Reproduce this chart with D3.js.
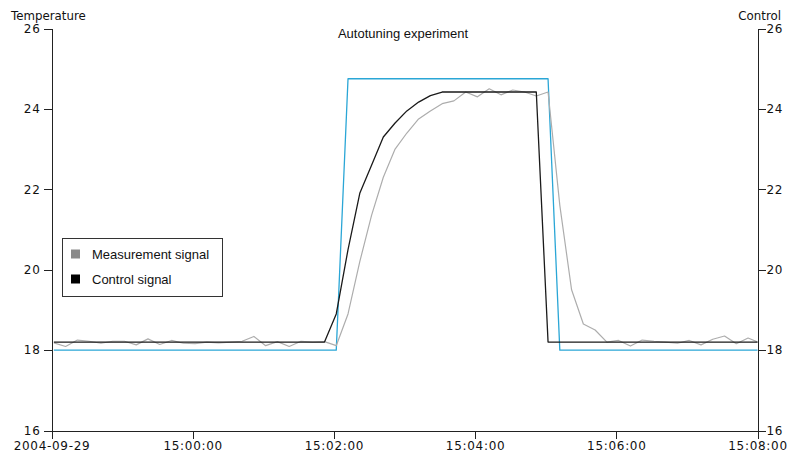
<!DOCTYPE html>
<html>
<head>
<meta charset="utf-8">
<script src="https://cdn.jsdelivr.net/npm/d3@7/dist/d3.min.js"></script>
<style>
  html, body { margin: 0; padding: 0; background: #fff; }
  svg { display: block; }
  .tick text { font-family: "DejaVu Sans", Verdana, sans-serif; font-size: 12px; letter-spacing: 0.7px; fill: #111; }
  .axis path, .axis line { stroke: #222; shape-rendering: crispEdges; }
</style>
</head>
<body>
<svg id="chart" width="792" height="458"></svg>
<script>
// Autotuning experiment: temperature response to a control step
const title = "Autotuning experiment";
const leftAxisTitle = "Temperature";
const rightAxisTitle = "Control";

// Samples are taken every 10 s starting at 14:58:02
const sampleStart = "2004-09-29T14:58:02";
const sampleStepSeconds = 10;

// Measured temperature
const measurement = [
  18.18, 18.09, 18.25, 18.22, 18.17, 18.22, 18.22, 18.13, 18.28, 18.14,
  18.24, 18.17, 18.16, 18.20, 18.18, 18.20, 18.22, 18.34, 18.11, 18.21,
  18.09, 18.22, 18.20, 18.21, 18.11, 18.90, 20.20, 21.35, 22.30, 23.00,
  23.40, 23.75, 23.95, 24.13, 24.20, 24.42, 24.30, 24.50, 24.35, 24.47,
  24.42, 24.32, 24.42, 21.60, 19.50, 18.65, 18.50, 18.20, 18.24, 18.10,
  18.25, 18.22, 18.20, 18.17, 18.24, 18.13, 18.27, 18.35, 18.16, 18.30,
  18.18
];

// Control signal
const control = [
  18.20, 18.20, 18.20, 18.20, 18.20, 18.20, 18.20, 18.20, 18.20, 18.20,
  18.20, 18.20, 18.20, 18.20, 18.20, 18.20, 18.20, 18.20, 18.20, 18.20,
  18.20, 18.20, 18.20, 18.20, 18.90, 20.50, 21.90, 22.60, 23.30, 23.65,
  23.95, 24.17, 24.33, 24.42, 24.42, 24.42, 24.42, 24.42, 24.42, 24.42,
  24.42, 24.42, 18.20, 18.20, 18.20, 18.20, 18.20, 18.20, 18.20, 18.20,
  18.20, 18.20, 18.20, 18.20, 18.20, 18.20, 18.20, 18.20, 18.20, 18.20,
  18.20
];

// Setpoint step
const setpoint = [
  18.00, 18.00, 18.00, 18.00, 18.00, 18.00, 18.00, 18.00, 18.00, 18.00,
  18.00, 18.00, 18.00, 18.00, 18.00, 18.00, 18.00, 18.00, 18.00, 18.00,
  18.00, 18.00, 18.00, 18.00, 18.00, 24.75, 24.75, 24.75, 24.75, 24.75,
  24.75, 24.75, 24.75, 24.75, 24.75, 24.75, 24.75, 24.75, 24.75, 24.75,
  24.75, 24.75, 24.75, 18.00, 18.00, 18.00, 18.00, 18.00, 18.00, 18.00,
  18.00, 18.00, 18.00, 18.00, 18.00, 18.00, 18.00, 18.00, 18.00, 18.00,
  18.00
];

const xDomain = ["2004-09-29T14:58:00", "2004-09-29T15:08:00"];
const xTicks = ["2004-09-29T14:58:00", "2004-09-29T15:00:00", "2004-09-29T15:02:00",
                "2004-09-29T15:04:00", "2004-09-29T15:06:00", "2004-09-29T15:08:00"];
const xTickLabels = ["2004-09-29", "15:00:00", "15:02:00", "15:04:00", "15:06:00", "15:08:00"];
const yDomain = [16, 26];
const yTicks = [16, 18, 20, 22, 24, 26];

const legendItems = ["Measurement signal", "Control signal"];
const colors = { measurement: "#adadad", control: "#1a1a1a", setpoint: "#2aa6d6" };
const legendSwatch = ["#8a8a8a", "#000000"];

const plot = { left: 51, right: 757, top: 28, bottom: 430 };
const svg = d3.select("#chart");

const t0 = new Date(sampleStart).getTime();
const times = measurement.map((_, i) => new Date(t0 + i * sampleStepSeconds * 1000));

const x = d3.scaleTime().domain(xDomain.map(d => new Date(d))).range([plot.left, plot.right]);
const y = d3.scaleLinear().domain(yDomain).range([plot.bottom, plot.top]);

svg.append("defs").append("clipPath").attr("id", "plot-clip")
  .append("rect")
  .attr("x", plot.left).attr("y", plot.top)
  .attr("width", plot.right - plot.left).attr("height", plot.bottom - plot.top);

const g = svg.append("g").attr("transform", "translate(0.5,0.5)");

// Curves
const lines = g.append("g").attr("clip-path", "url(#plot-clip)");
const line = d3.line().x((d, i) => x(times[i])).y(d => y(d));
[[setpoint, colors.setpoint, 1.3], [measurement, colors.measurement, 1.2], [control, colors.control, 1.3]]
  .forEach(([series, color, w]) => {
    lines.append("path").datum(series)
      .attr("fill", "none").attr("stroke", color).attr("stroke-width", w)
      .attr("stroke-linejoin", "round").attr("d", line);
  });

// Axes
const tickDates = xTicks.map(d => new Date(d));
g.append("g").attr("class", "axis")
  .attr("transform", `translate(0,${plot.bottom})`)
  .call(d3.axisBottom(x).tickValues(tickDates).tickSize(8).tickPadding(3).tickSizeOuter(0)
    .tickFormat((d, i) => xTickLabels[i]));

g.append("g").attr("class", "axis")
  .attr("transform", `translate(${plot.left},0)`)
  .call(d3.axisLeft(y).tickValues(yTicks).tickSize(8).tickPadding(3).tickSizeOuter(0));

g.append("g").attr("class", "axis")
  .attr("transform", `translate(${plot.right},0)`)
  .call(d3.axisRight(y).tickValues(yTicks).tickSize(8).tickPadding(1).tickSizeOuter(0));

g.selectAll(".axis .domain").attr("stroke", "#222");

// Titles
svg.append("text").attr("x", 403).attr("y", 38).attr("text-anchor", "middle")
  .attr("font-family", "Liberation Sans, Arial, sans-serif").attr("font-size", 13).attr("fill", "#111")
  .text(title);
svg.append("text").attr("x", 11).attr("y", 19.5)
  .attr("font-family", "DejaVu Sans, Verdana, sans-serif").attr("font-size", 11.8).attr("fill", "#111")
  .text(leftAxisTitle);
svg.append("text").attr("x", 781).attr("y", 19.5).attr("text-anchor", "end")
  .attr("font-family", "DejaVu Sans, Verdana, sans-serif").attr("font-size", 11.8).attr("fill", "#111")
  .text(rightAxisTitle);

// Legend
const legend = svg.append("g").attr("transform", "translate(62.5,238.5)");
legend.append("rect").attr("width", 160).attr("height", 58)
  .attr("fill", "#fff").attr("stroke", "#333").attr("stroke-width", 1);
legendItems.forEach((label, i) => {
  const row = legend.append("g").attr("transform", `translate(0,${11 + i * 25})`);
  row.append("rect").attr("x", 8.5).attr("y", 0).attr("width", 9).attr("height", 9)
    .attr("fill", legendSwatch[i]);
  row.append("text").attr("x", 29.5).attr("y", 9.5)
    .attr("font-family", "Liberation Sans, Arial, sans-serif").attr("font-size", 13).attr("fill", "#111")
    .text(label);
});
</script>
</body>
</html>
